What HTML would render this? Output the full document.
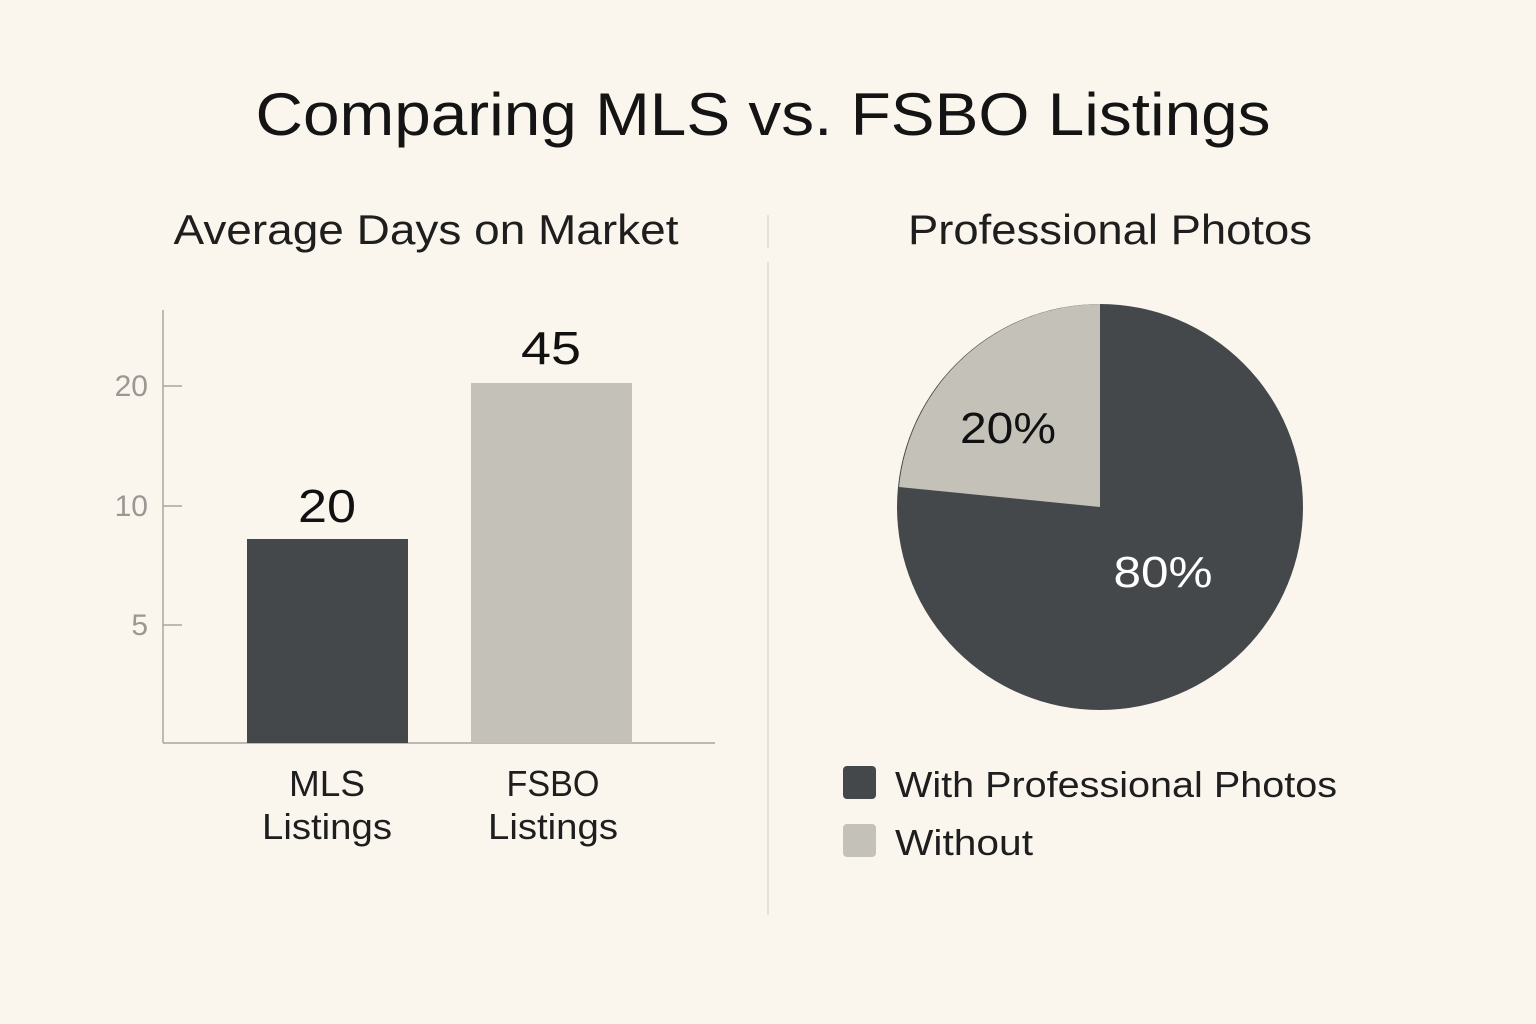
<!DOCTYPE html>
<html><head><meta charset="utf-8"><style>
html,body{margin:0;padding:0;background:#faf6ee;}
svg{display:block;}
text{font-family:"Liberation Sans","DejaVu Sans",sans-serif;}
</style></head><body>
<svg width="1536" height="1024" viewBox="0 0 1536 1024" xmlns="http://www.w3.org/2000/svg">
<rect width="1536" height="1024" fill="#faf6ee"/>
<text x="763" y="135" font-size="60" text-anchor="middle" fill="#141414" textLength="1015" lengthAdjust="spacingAndGlyphs">Comparing MLS vs. FSBO Listings</text>
<text x="426" y="244" font-size="42" text-anchor="middle" fill="#1e1e1e" textLength="505" lengthAdjust="spacingAndGlyphs">Average Days on Market</text>
<text x="1110" y="244" font-size="42" text-anchor="middle" fill="#1e1e1e" textLength="404" lengthAdjust="spacingAndGlyphs">Professional Photos</text>
<line x1="768" y1="215" x2="768" y2="248" stroke="#e6e1d8" stroke-width="2"/>
<line x1="768" y1="262" x2="768" y2="915" stroke="#e6e1d8" stroke-width="2"/>
<line x1="163" y1="310" x2="163" y2="743" stroke="#a8a6a2" stroke-width="1.5"/>
<line x1="163" y1="743" x2="715" y2="743" stroke="#a8a6a2" stroke-width="1.5"/>
<g stroke="#a8a6a2" stroke-width="1.5">
<line x1="163" y1="386" x2="182" y2="386"/>
<line x1="163" y1="506" x2="182" y2="506"/>
<line x1="163" y1="625" x2="182" y2="625"/>
</g>
<g font-size="30" fill="#9a9894" text-anchor="end">
<text x="148" y="396">20</text>
<text x="148" y="516">10</text>
<text x="148" y="635">5</text>
</g>
<rect x="247" y="539" width="161" height="204" fill="#45484b"/>
<rect x="471" y="383" width="161" height="360" fill="#c4c1b9"/>
<text x="327" y="522" font-size="46" text-anchor="middle" fill="#111" textLength="58" lengthAdjust="spacingAndGlyphs">20</text>
<text x="551" y="364" font-size="46" text-anchor="middle" fill="#111" textLength="60" lengthAdjust="spacingAndGlyphs">45</text>
<g font-size="36" text-anchor="middle" fill="#1e1e1e">
<text x="327" y="796" textLength="76" lengthAdjust="spacingAndGlyphs">MLS</text>
<text x="327" y="839" textLength="130" lengthAdjust="spacingAndGlyphs">Listings</text>
<text x="553" y="796" textLength="93" lengthAdjust="spacingAndGlyphs">FSBO</text>
<text x="553" y="839" textLength="130" lengthAdjust="spacingAndGlyphs">Listings</text>
</g>
<circle cx="1100" cy="507" r="203" fill="#45484b"/>
<path d="M1100,507 L1100,304 A203,203 0 0 0 899,487 Z" fill="#c4c1b9"/>
<text x="1008" y="443" font-size="44" text-anchor="middle" fill="#111" textLength="96" lengthAdjust="spacingAndGlyphs">20%</text>
<text x="1163" y="587" font-size="44" text-anchor="middle" fill="#ffffff" textLength="99" lengthAdjust="spacingAndGlyphs">80%</text>
<rect x="843" y="766" width="33" height="33" rx="4" fill="#45484b"/>
<rect x="843" y="824" width="33" height="33" rx="4" fill="#c4c1b9"/>
<g font-size="36" fill="#1e1e1e">
<text x="895" y="797" textLength="442" lengthAdjust="spacingAndGlyphs">With Professional Photos</text>
<text x="895" y="855" textLength="138" lengthAdjust="spacingAndGlyphs">Without</text>
</g>
</svg>
</body></html>
